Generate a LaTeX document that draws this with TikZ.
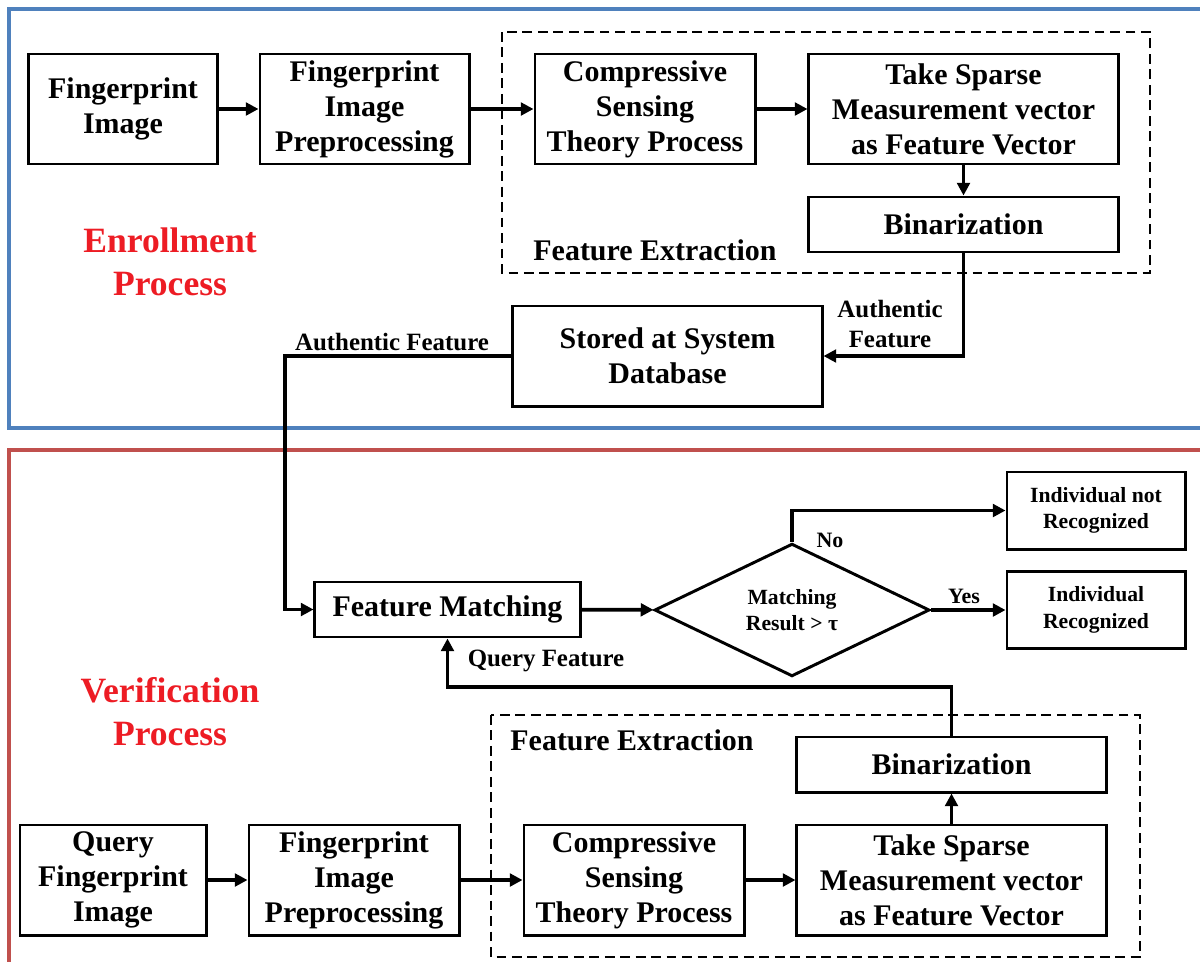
\documentclass[tikz,border=0pt]{standalone}
\usepackage{fontspec}
\setmainfont{Liberation Serif}
\usepackage{tikz}
\usetikzlibrary{arrows.meta,shapes.geometric}
\definecolor{frameblue}{RGB}{79,129,189}
\definecolor{framered}{RGB}{192,80,77}
\definecolor{titlered}{RGB}{237,28,36}
\tikzset{
  box/.style={draw, line width=2.1pt, inner sep=0pt, align=center, font=\bfseries\fontsize{21.3}{24.9}\selectfont},
  smallbox/.style={box, font=\bfseries\fontsize{15.4}{19}\selectfont},
  conn/.style={line width=2.6pt, -{Triangle[length=9pt,width=9pt]}},
  wire/.style={line width=2.6pt},
  febox/.style={line width=1.8pt, dash pattern=on 7pt off 4pt},
  lbl/.style={inner sep=0pt, align=center, font=\bfseries\fontsize{17.7}{21.3}\selectfont},
  title/.style={inner sep=0pt, align=center, text=titlered, font=\bfseries\fontsize{25.3}{30.6}\selectfont}
}
\begin{document}
\begin{tikzpicture}[x=0.025cm, y=0.025cm]
\useasboundingbox (0,0) rectangle (1200,-962);
\draw [frameblue, line width=2.2pt] (1200,-9) -- (9,-9) -- (9,-428) -- (1200,-428);
\draw [framered, line width=2.2pt] (1200,-450) -- (9,-450) -- (9,-962);
\draw [febox] (502,-32) rectangle (1150,-273);
\draw [febox] (491,-715) rectangle (1140,-957);
\node [box, minimum width=4.7cm, minimum height=2.75cm] (fpimg) at (123,-109) {Fingerprint\\Image};
\node [box, minimum width=5.225cm, minimum height=2.75cm] (prep) at (364.5,-109) {Fingerprint\\Image\\Preprocessing};
\node [box, minimum width=5.5cm, minimum height=2.75cm] (cs) at (645,-109) {Compressive\\Sensing\\Theory Process};
\node [box, minimum width=7.725cm, minimum height=2.75cm] (sparse) at (963.5,-109) {Take Sparse\\Measurement vector\\as Feature Vector};
\node [box, minimum width=7.725cm, minimum height=1.375cm] (bin) at (963.5,-224.5) {Binarization};
\node [box, minimum width=7.725cm, minimum height=2.5cm] (store) at (667.5,-356) {Stored at System\\Database};
\node [lbl, font=\bfseries\fontsize{21.3}{24.9}\selectfont] (fe1) at (655,-250) {Feature Extraction};
\node [title] (enroll) at (170,-262) {Enrollment\\Process};
\node [lbl] (auth1) at (890,-324) {Authentic\\Feature};
\node [lbl] (auth2) at (392,-342) {Authentic Feature};
\coordinate (bend1) at (285,-356);
\draw [conn] (fpimg) -- (prep);
\draw [conn] (prep) -- (cs);
\draw [conn] (cs) -- (sparse);
\draw [conn] (sparse) -- (bin);
\draw [conn] (bin.south) |- (store.east);
\node [box, minimum width=6.625cm, minimum height=1.375cm] (match) at (447.5,-609.5) {Feature Matching};
\node [smallbox, diamond, minimum width=6.875cm, minimum height=2.5cm, font=\bfseries\fontsize{15.4}{18}\selectfont] (decide) at (792,-610) {Matching\\Result > τ};
\node [smallbox, minimum width=4.45cm, minimum height=1.925cm] (notrec) at (1096,-510.5) {Individual not\\Recognized};
\node [smallbox, minimum width=4.45cm, minimum height=1.925cm] (rec) at (1096,-610) {Individual\\Recognized};
\node [lbl, font=\bfseries\fontsize{15.6}{18}\selectfont] (no) at (830,-540) {No};
\node [lbl, font=\bfseries\fontsize{15.6}{18}\selectfont] (yes) at (964,-596) {Yes};
\node [lbl] (query) at (546,-661) {Query Feature};
\node [title] (verify) at (170,-712) {Verification\\Process};
\node [lbl, font=\bfseries\fontsize{21.3}{24.9}\selectfont] (fe2) at (632,-740) {Feature Extraction};
\node [box, minimum width=7.725cm, minimum height=1.375cm] (qbin) at (951.5,-764.5) {Binarization};
\node [box, minimum width=4.65cm, minimum height=2.75cm] (qimg) at (113,-880) {Query\\Fingerprint\\Image};
\node [box, minimum width=5.25cm, minimum height=2.75cm] (qprep) at (354,-880) {Fingerprint\\Image\\Preprocessing};
\node [box, minimum width=5.5cm, minimum height=2.75cm] (qcs) at (634,-880) {Compressive\\Sensing\\Theory Process};
\node [box, minimum width=7.725cm, minimum height=2.75cm] (qsparse) at (951.5,-880) {Take Sparse\\Measurement vector\\as Feature Vector};
\coordinate (qturn) at (951.5,-687);
\draw [conn] (store.west) -- (bend1) |- (match.west);
\draw [conn] (match) -- (decide);
\draw [conn] (decide.north) |- (notrec.west);
\draw [conn] (decide.east) -- (rec.west);
\draw [conn] (qbin.north) -- (qturn) -| (match.south);
\draw [conn] (qimg) -- (qprep);
\draw [conn] (qprep) -- (qcs);
\draw [conn] (qcs) -- (qsparse);
\draw [conn] (qsparse) -- (qbin);
\end{tikzpicture}
\end{document}
